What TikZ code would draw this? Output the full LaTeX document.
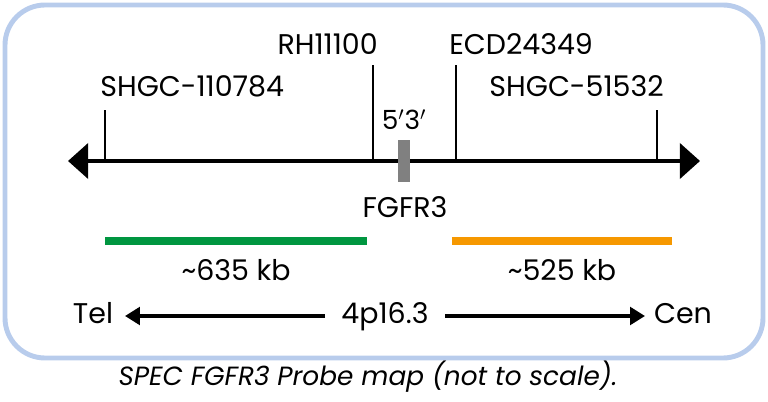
\documentclass[tikz,border=0pt]{standalone}
\usepackage{fontspec}
\setmainfont{Poppins}
\usetikzlibrary{positioning}
\usetikzlibrary{arrows.meta}

\definecolor{framecol}{RGB}{184,204,236}
\definecolor{probegreen}{RGB}{0,150,64}
\definecolor{probeorange}{RGB}{246,152,0}
\definecolor{genegray}{RGB}{128,128,128}

\begin{document}
\begin{tikzpicture}[ x = 0.02cm, y = -0.02cm
                     , font = \fontsize{16.2}{18}\selectfont
                     , every node/.style = { inner sep = 0pt }
                     ]

    \tikzset{ frame/.style = {draw=framecol, line width=2.8pt, rounded corners=0.8cm}
            , chrom/.style = {line width=2.3pt, {Triangle[length=11.5pt, width=20pt]}-{Triangle[length=11.5pt, width=20pt]}}
            , marker/.style = {line width=1.1pt}
            , label/.style = {anchor=base}
            , probe/.style = {line width=4.6pt, line cap=butt}
            , orient/.style = {line width=2pt, -{Triangle[length=8.5pt, width=10pt]}}}

    \useasboundingbox (0,0) rectangle (768,402);
    \draw[frame] (5,5) rectangle (763,358);

    %%
    %% Chromosome line and gene
    %%
    \coordinate (tel end) at (68,161);
    \coordinate (cen end) at (700,161);
    \draw[chrom] (tel end) -- (cen end);

    \node (fgfr3) [fill=genegray, minimum height=0.84cm,
                   outer sep=0pt, inner sep=0pt, text width=0.24cm] at (404,161) {};
    \node (ends)  [label] at (404,130) {\fontsize{15}{17}\selectfont 5$'$3$'$};
    \node (gene)  [label] at (405,217) {FGFR3};

    %%
    %% Markers
    %%
    \coordinate (m1) at (105,161);  \coordinate (m1top) at (105,110);
    \coordinate (m2) at (373,161);  \coordinate (m2top) at (373,65);
    \coordinate (m3) at (456,161);  \coordinate (m3top) at (456,65);
    \coordinate (m4) at (657,161);  \coordinate (m4top) at (657,110);

    \node (shgc1) [label, anchor=base west] at (100,97)  {SHGC-110784};
    \node (rh)    [label, anchor=base east] at (378,55)  {RH11100};
    \node (ecd)   [label, anchor=base west] at (449,55)  {ECD24349};
    \node (shgc2) [label, anchor=base east] at (664,97)  {SHGC-51532};

    \draw[marker] (m1) -- (m1top);
    \draw[marker] (m2) -- (m2top);
    \draw[marker] (m3) -- (m3top);
    \draw[marker] (m4) -- (m4top);

    %%
    %% Probes
    %%
    \coordinate (g1) at (105,241);  \coordinate (g2) at (367,241);
    \coordinate (o1) at (452,241);  \coordinate (o2) at (672,241);
    \draw[probe, probegreen]  (g1) -- (g2);
    \draw[probe, probeorange] (o1) -- (o2);
    \node (green size)  [label] at (236,280) {\textasciitilde635 kb};
    \node (orange size) [label] at (562,280) {\textasciitilde525 kb};

    %%
    %% Orientation
    %%
    \node (tel)  [label] at (93,323)  {Tel};
    \node (band) [label] at (385,323) {4p16.3};
    \node (cen)  [label] at (683,323) {Cen};
    \coordinate (band w) at (325,316);  \coordinate (tel e) at (125,316);
    \coordinate (band e) at (445,316);  \coordinate (cen w) at (645,316);
    \draw[orient] (band w) -- (tel e);
    \draw[orient] (band e) -- (cen w);

    \node (caption) [label] at (368,385) {\fontsize{15}{17}\selectfont\itshape SPEC FGFR3 Probe map (not to scale).};
  \end{tikzpicture}
\end{document}
